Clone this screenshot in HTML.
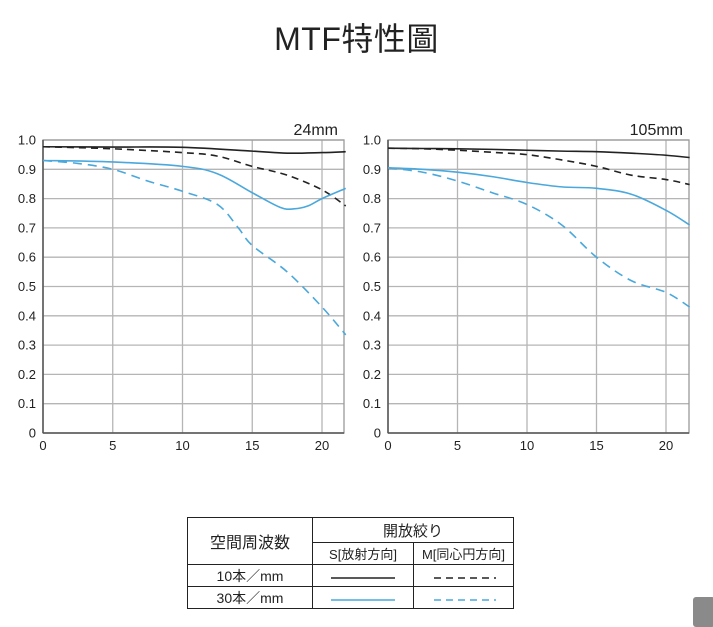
<!DOCTYPE html>
<html><head><meta charset="utf-8">
<style>
body{margin:0;width:713px;height:624px;background:#fff;overflow:hidden;font-family:"Liberation Sans","Noto Sans CJK TC",sans-serif;position:relative}
#title{position:absolute;left:0;width:713px;top:14px;text-align:center;font-size:32px;color:#222;letter-spacing:0.5px}
table{position:absolute;left:187px;top:517px;width:327px;border-collapse:collapse;font-size:14px;color:#222;font-family:"Liberation Sans","Noto Sans CJK JP",sans-serif}
td{border:1px solid #222;text-align:center;padding:0;height:21px}
.gray{position:absolute;left:693px;top:597px;width:22px;height:30px;background:#8a8a8a;border-radius:3px}
</style></head><body>
<div id="title">MTF特性圖</div>
<svg id="svg" width="713" height="624" style="position:absolute;left:0;top:0"></svg>
<table>
<tr><td rowspan="2" style="width:124px;font-size:16px">空間周波数</td><td colspan="2" style="height:24px;font-size:15px">開放絞り</td></tr>
<tr><td style="width:100px;font-size:13px">S[放射方向]</td><td style="font-size:13px">M[同心円方向]</td></tr>
<tr><td>10本／mm</td><td><svg width="70" height="6"><line x1="3" y1="3" x2="67" y2="3" stroke="#222" stroke-width="1.5"/></svg></td><td><svg width="70" height="6"><line x1="5" y1="3" x2="67" y2="3" stroke="#222" stroke-width="1.5" stroke-dasharray="7,5"/></svg></td></tr>
<tr><td>30本／mm</td><td><svg width="70" height="6"><line x1="3" y1="3" x2="67" y2="3" stroke="#4aa8dc" stroke-width="1.5"/></svg></td><td><svg width="70" height="6"><line x1="5" y1="3" x2="67" y2="3" stroke="#4aa8dc" stroke-width="1.5" stroke-dasharray="7,5"/></svg></td></tr>
</table>
<div class="gray"></div>
<script>
const xTicks=[0,5,10,15,20];
const yTicks=[0,0.1,0.2,0.3,0.4,0.5,0.6,0.7,0.8,0.9,1.0];
const yTickLabels=["0","0.1","0.2","0.3","0.4","0.5","0.6","0.7","0.8","0.9","1.0"];
const chartTitles=["24mm","105mm"];
const xs24S10=[0,5,10,15,17.5,20,21.7];
const ys24S10=[0.977,0.976,0.975,0.962,0.955,0.957,0.96];
const xs24M10=[0,5,10,12.5,15,17.5,20,21.7];
const ys24M10=[0.977,0.97,0.957,0.945,0.91,0.88,0.83,0.775];
const xs24S30=[0,5,10,12.5,15,17,18,19,20,21.7];
const ys24S30=[0.93,0.925,0.91,0.885,0.82,0.77,0.765,0.775,0.8,0.835];
const xs24M30=[0,2.5,5,7.5,10,12.5,14,15,17.5,20,21.7];
const ys24M30=[0.93,0.92,0.9,0.86,0.825,0.78,0.7,0.64,0.55,0.43,0.335];
const xs105=[0,2.5,5,7.5,10,12.5,15,17.5,20,21.7];
const ys105S10=[0.972,0.971,0.97,0.968,0.965,0.962,0.96,0.955,0.948,0.94];
const ys105M10=[0.972,0.97,0.965,0.958,0.95,0.932,0.91,0.88,0.865,0.848];
const ys105S30=[0.905,0.9,0.89,0.875,0.855,0.84,0.835,0.815,0.76,0.71];
const ys105M30=[0.905,0.89,0.86,0.82,0.78,0.71,0.6,0.52,0.48,0.43];

const NS="http://www.w3.org/2000/svg";
const svg=document.getElementById('svg');
function mk(t,a,p){const e=document.createElementNS(NS,t);for(const k in a)e.setAttribute(k,a[k]);(p||svg).appendChild(e);return e;}
const panels=[{x0:43,x20:322,right:344},{x0:388,x20:666,right:689}];
const TOP=140,BOT=433;
function path(pts){let d="M"+pts[0][0]+","+pts[0][1];for(let i=0;i<pts.length-1;i++){const p0=pts[Math.max(0,i-1)],p1=pts[i],p2=pts[i+1],p3=pts[Math.min(pts.length-1,i+2)];d+=" C"+(p1[0]+(p2[0]-p0[0])/6)+","+(p1[1]+(p2[1]-p0[1])/6)+" "+(p2[0]-(p3[0]-p1[0])/6)+","+(p2[1]-(p3[1]-p1[1])/6)+" "+p2[0]+","+p2[1];}return d;}
const series=[
 [[xs24S10,ys24S10,"#222",""],[xs24M10,ys24M10,"#222","7,5"],[xs24S30,ys24S30,"#4aa8dc",""],[xs24M30,ys24M30,"#4aa8dc","9,6"]],
 [[xs105,ys105S10,"#222",""],[xs105,ys105M10,"#222","7,5"],[xs105,ys105S30,"#4aa8dc",""],[xs105,ys105M30,"#4aa8dc","9,6"]]];
const names=["s-10lpmm","m-10lpmm","s-30lpmm","m-30lpmm"];
panels.forEach((P,pi)=>{
 const X=v=>P.x0+(P.x20-P.x0)*v/20, Y=v=>BOT-(BOT-TOP)*v;
 const g=mk('g',{});
 
 
 yTicks.forEach((t,i)=>{
  const l=mk('line',{x1:P.x0,x2:P.right,y1:Y(t),y2:Y(t),stroke:"#b5b5b5","stroke-width":1.3},g);
  
  
  const tx=mk('text',{x:P.x0-7,y:Y(t)+4.5,"text-anchor":"end","font-size":13,fill:"#222"},g);
  
  
  tx.textContent=yTickLabels[i];
 });
 xTicks.forEach(t=>{
  const l=mk('line',{x1:X(t),x2:X(t),y1:TOP,y2:BOT,stroke:"#b5b5b5","stroke-width":1.3},g);
  
  
  const tx=mk('text',{x:X(t),y:BOT+17,"text-anchor":"middle","font-size":13,fill:"#222"},g);
  
  
  tx.textContent=String(t);
 });
 mk('rect',{x:P.x0,y:TOP,width:P.right-P.x0,height:BOT-TOP,fill:"none",stroke:"#999","stroke-width":1.3},g);
 mk('line',{x1:P.x0,x2:P.right,y1:BOT,y2:BOT,stroke:"#555","stroke-width":1.5},g);
 mk('line',{x1:P.x0,x2:P.x0,y1:TOP,y2:BOT,stroke:"#555","stroke-width":1.5},g);
 const tt=mk('text',{x:P.right-6,y:TOP-5,"text-anchor":"end","font-size":16,fill:"#222"},g);
 
 
 tt.textContent=chartTitles[pi];
 series[pi].forEach((s,si)=>{
  const pts=s[0].map((x,i)=>[X(x),Y(s[1][i])]);
  const p=mk('path',{d:path(pts),fill:"none",stroke:s[2],"stroke-width":1.6},g);
  if(s[3])p.setAttribute('stroke-dasharray',s[3]);
  
  
 });
});
</script>
</body></html>
